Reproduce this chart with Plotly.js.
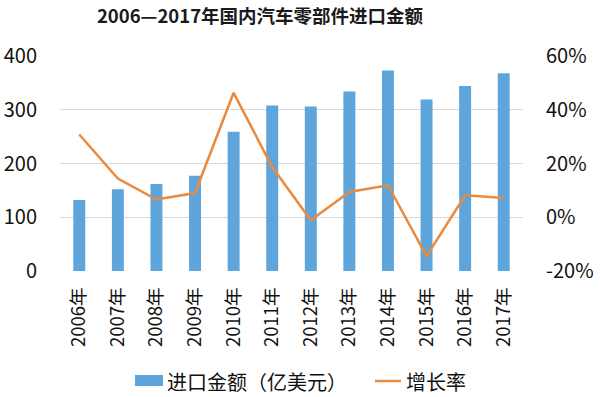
<!DOCTYPE html>
<html><head><meta charset="utf-8">
<script src="https://cdn.plot.ly/plotly-3.0.1.min.js"></script>
<style>html,body{margin:0;padding:0;background:#fff}#c{width:600px;height:397px}</style>
</head><body><div id="c"></div>
<script>
const years = ['2006年','2007年','2008年','2009年','2010年','2011年','2012年','2013年','2014年','2015年','2016年','2017年'];
const importValue = [132, 152, 162, 177, 259, 308, 306, 334, 373, 319, 344, 368];
const growthRate = [30.8, 14.4, 6.6, 9.0, 46.3, 18.7, -1.1, 9.4, 11.9, -14.5, 8.2, 7.2];
const leftTicks = [0, 100, 200, 300, 400];
const rightTicks = [-20, 0, 20, 40, 60];
const rightTickText = ['-20%', '0%', '20%', '40%', '60%'];
const barName = '进口金额（亿美元）';
const lineName = '增长率';
const barColor = '#5DA5DA';
const lineColor = '#EA8A3F';

const F = '"Noto Sans CJK SC", "Noto Sans", sans-serif';
const data = [
  {type:'bar', x: years, y: importValue, name: barName, marker:{color: barColor}, width:0.31, showlegend:false},
  {type:'scatter', mode:'lines', x: years, y: growthRate, name: lineName, yaxis:'y2', line:{color: lineColor, width:2.5}, showlegend:false}
];
const layout = {
  width:600, height:397,
  margin:{l:60, r:77, t:56, b:126},
  paper_bgcolor:'#fff', plot_bgcolor:'#fff',
  font:{family:F, color:'#111', size:16},
  title:{text:'<b>2006—2017年国内汽车零部件进口金额</b>', x:260/600, xanchor:'center', xref:'container', y:1-17/397, yref:'container', yanchor:'middle', font:{size:18.5, family:F, color:'#1a1a1a'}},
  showlegend:false,
  xaxis:{type:'category', tickangle:-90, showgrid:false, showline:false, zeroline:false, ticks:'outside', ticklen:8, tickcolor:'rgba(0,0,0,0)', tickfont:{size:18.5, family:F, color:'#111'}},
  yaxis:{range:[0,400], tickvals:leftTicks, showgrid:true, gridcolor:'#D9D9D9', gridwidth:1, zeroline:false, showline:false, ticks:'outside', ticklen:18, tickcolor:'rgba(0,0,0,0)', tickfont:{size:20, family:F, color:'#111'}},
  yaxis2:{range:[-20,60], tickvals:rightTicks, ticktext:rightTickText, overlaying:'y', side:'right', showgrid:false, zeroline:false, showline:false, ticks:'outside', ticklen:18, tickcolor:'rgba(0,0,0,0)', tickfont:{size:20, family:F, color:'#111'}},
  shapes:[
    {type:'rect', xref:'paper', yref:'paper', x0:75/463, x1:103/463, y0:-104/215, y1:-115/215, fillcolor: barColor, line:{width:0}},
    {type:'line', xref:'paper', yref:'paper', x0:315/463, x1:341/463, y0:-110/215, y1:-110/215, line:{color: lineColor, width:2.5}}
  ],
  annotations:[
    {xref:'paper', yref:'paper', x:105/463, y:-110.5/215, xanchor:'left', yanchor:'middle', showarrow:false, text: barName, font:{size:20, family:F, color:'#111'}},
    {xref:'paper', yref:'paper', x:344/463, y:-110.5/215, xanchor:'left', yanchor:'middle', showarrow:false, text: lineName, font:{size:20, family:F, color:'#111'}}
  ]
};
Plotly.newPlot('c', data, layout, {displayModeBar:false, staticPlot:true});
</script></body></html>
